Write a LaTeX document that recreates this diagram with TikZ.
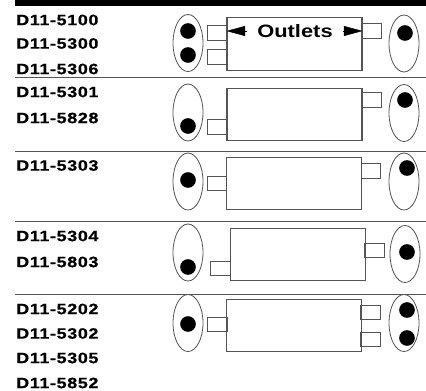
\documentclass[tikz,border=0pt]{standalone}
\usepackage{xcolor}
\usepackage{fontspec}
\usepackage{tikz}
\usetikzlibrary{shapes.geometric, arrows.meta}
\newfontfamily\partfont[FakeStretch=1.2, LetterSpace=4, FakeBold=0.6]{Liberation Sans Bold}
\newfontfamily\outletfont[FakeStretch=1.22]{Liberation Sans Bold}
\definecolor{wireline}{RGB}{85, 85, 85}

\begin{document}
\begin{tikzpicture}[
          x=0.03cm, y=-0.03cm,
          partlabel/.style={anchor=west, inner sep=0pt, font=\partfont\fontsize{12.8}{15}\selectfont},
          flange/.style={ellipse, draw=wireline, line width=0.7pt, inner sep=0pt, minimum width=0.9cm, minimum height=1.71cm},
          stud/.style={circle, fill=black, inner sep=0pt, minimum size=0.47cm},
          housing/.style={rectangle, draw=wireline, line width=0.9pt, inner sep=0pt, minimum width=4.05cm, minimum height=1.58cm},
          spigot/.style={rectangle, draw=wireline, line width=0.9pt, inner sep=0pt, minimum width=0.58cm, minimum height=0.43cm},
          rowrule/.style={draw=wireline, line width=0.9pt},
          outarrow/.style={-{Triangle[length=0.56cm, width=0.3cm]}, line width=0.4pt, shorten <=0.3cm}
        ]
          \useasboundingbox (0,0) rectangle (426,390);

          % Top bar and row rules
          \fill[black] (15,0) rectangle (426,6);
          \draw[rowrule] (15,77.5) -- (426,77.5);
          \draw[rowrule] (15,151.7) -- (426,151.7);
          \draw[rowrule] (15,221.7) -- (426,221.7);
          \draw[rowrule] (15,294.5) -- (426,294.5);

          % Part numbers
          \node[partlabel] (l1a) at (16, 20) {D11-5100};
          \node[partlabel] (l1b) at (16, 43.5) {D11-5300};
          \node[partlabel] (l1c) at (16, 69) {D11-5306};
          \node[partlabel] (l2a) at (16, 92) {D11-5301};
          \node[partlabel] (l2b) at (16, 118) {D11-5828};
          \node[partlabel] (l3a) at (16, 165.5) {D11-5303};
          \node[partlabel] (l4a) at (16, 236) {D11-5304};
          \node[partlabel] (l4b) at (16, 262) {D11-5803};
          \node[partlabel] (l5a) at (16, 309) {D11-5202};
          \node[partlabel] (l5b) at (16, 333.5) {D11-5302};
          \node[partlabel] (l5c) at (16, 358) {D11-5305};
          \node[partlabel] (l5d) at (16, 383) {D11-5852};

          % Row 1
          \node[flange] (fl1) at (188, 43) {};
          \node[stud] (sl1a) at (188, 31) {};
          \node[stud] (sl1b) at (188, 55) {};
          \node[housing] (box1) at (294.5, 44) {};
          \node[spigot] (pl1a) at (217.5, 33) {};
          \node[spigot] (pl1b) at (217.5, 57) {};
          \node[spigot] (pr1) at (371.5, 31) {};
          \node[flange] (fr1) at (404, 43.5) {};
          \node[stud] (sr1) at (405, 33) {};
          \node[inner sep=0pt, font=\outletfont\fontsize{15.3}{18}\selectfont] (outlets) at (295, 31) {Outlets};
          \draw[outarrow] (outlets.west) -- (box1.west |- outlets.west);
          \draw[outarrow] (outlets.east) -- (box1.east |- outlets.east);

          % Row 2
          \node[flange] (fl2) at (188, 112.5) {};
          \node[stud] (sl2) at (188, 126) {};
          \node[housing] (box2) at (294.5, 114.5) {};
          \node[spigot] (pl2) at (217.5, 127) {};
          \node[spigot] (pr2) at (371.5, 100) {};
          \node[flange] (fr2) at (404, 113) {};
          \node[stud] (sr2) at (405, 100) {};

          % Row 3
          \node[flange] (fl3) at (188, 181.5) {};
          \node[stud] (sl3) at (188, 180) {};
          \node[housing] (box3) at (294, 183.5) {};
          \node[spigot] (pl3) at (217, 183.5) {};
          \node[spigot] (pr3) at (371, 171) {};
          \node[flange] (fr3) at (404, 181.5) {};
          \node[stud] (sr3) at (407, 168) {};

          % Row 4
          \node[flange] (fl4) at (188, 252.5) {};
          \node[stud] (sl4) at (188, 267) {};
          \node[housing] (box4) at (298, 254.5) {};
          \node[spigot] (pl4) at (220.5, 268.5) {};
          \node[spigot] (pr4) at (374.5, 250.5) {};
          \node[flange] (fr4) at (405, 254) {};
          \node[stud] (sr4) at (407, 252) {};

          % Row 5
          \node[flange] (fl5) at (188, 323) {};
          \node[stud] (sl5) at (188, 324) {};
          \node[housing] (box5) at (294, 325.5) {};
          \node[spigot] (pl5) at (217.5, 324.5) {};
          \node[spigot] (pr5a) at (370.5, 312.5) {};
          \node[spigot] (pr5b) at (370.5, 339.5) {};
          \node[flange] (fr5) at (404, 323) {};
          \node[stud] (sr5a) at (407, 310) {};
          \node[stud] (sr5b) at (407, 338) {};
        \end{tikzpicture}
\end{document}
